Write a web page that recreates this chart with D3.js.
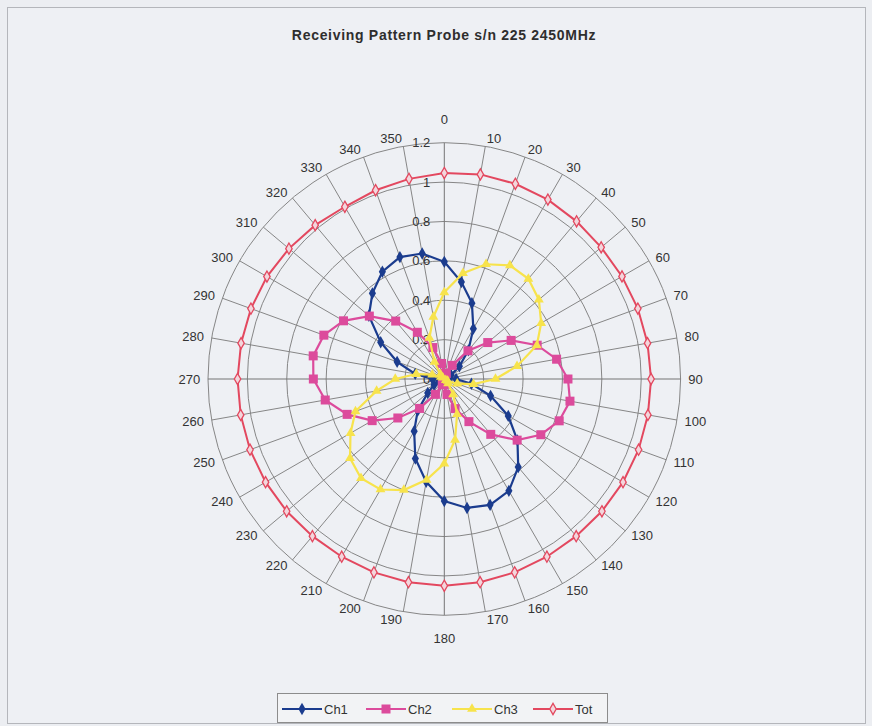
<!DOCTYPE html>
<html><head><meta charset="utf-8">
<script src="https://cdn.jsdelivr.net/npm/d3@7"></script>
<style>body{margin:0;background:#eceef2;}svg{display:block;font-family:"Liberation Sans",Arial,sans-serif;}</style>
</head><body><svg id="chart" width="872" height="726"></svg>
<script>
const angles = d3.range(0, 360, 10);
const angleLabels = angles.map(String);
const radialTicks = [0, 0.2, 0.4, 0.6, 0.8, 1, 1.2];
const radialTickLabels = ["0", "0.2", "0.4", "0.6", "0.8", "1", "1.2"];
const seriesNames = ["Ch1", "Ch2", "Ch3", "Tot"];
const ch1 = [0.595,0.50,0.41,0.295,0.19,0.10,0.04,0.01,0.02,0.06,0.14,0.25,0.375,0.485,0.584,0.656,0.68,0.665,
             0.62,0.53,0.43,0.306,0.21,0.11,0.06,0.03,0.02,0.06,0.15,0.255,0.373,0.50,0.568,0.629,0.659,0.647];
const ch2 = [0.03,0.02,0.03,0.08,0.187,0.288,0.392,0.502,0.579,0.628,0.648,0.621,0.566,0.483,0.367,0.25,0.16,0.08,
             0.03,0.02,0.03,0.09,0.195,0.308,0.423,0.525,0.614,0.665,0.676,0.651,0.591,0.497,0.384,0.274,0.17,0.08];
const ch3 = [0.44,0.546,0.62,0.666,0.664,0.627,0.568,0.50,0.375,0.26,0.15,0.07,0.02,0.01,0.03,0.09,0.19,0.314,
             0.43,0.52,0.60,0.648,0.658,0.625,0.55,0.48,0.349,0.249,0.145,0.065,0.02,0.01,0.03,0.10,0.222,0.32];
const tot = [1.046,1.055,1.055,1.052,1.045,1.04,1.042,1.046,1.048,1.05,1.05,1.05,1.048,1.045,1.042,1.042,1.045,1.048,
             1.05,1.048,1.045,1.042,1.042,1.045,1.048,1.05,1.05,1.05,1.048,1.045,1.04,1.03,1.02,1.01,1.02,1.032];
const seriesData = [ch1, ch2, ch3, tot];
const colors = ["#1b3c8e", "#dc4b9c", "#f7e34c", "#e3485f"];

const svg = d3.select("#chart");
const cx = 444.3, cy = 379, R = 236.3;
const r = d3.scaleLinear().domain([0, 1.2]).range([0, R]);
const a = d3.scaleLinear().domain([0, 360]).range([0, 2 * Math.PI]);

svg.append("rect").attr("x", 0).attr("y", 0).attr("width", 872).attr("height", 726).attr("fill", "#eceef2");
svg.append("rect").attr("x", 7.5).attr("y", 7.5).attr("width", 858).attr("height", 716)
  .attr("fill", "#eef0f4").attr("stroke", "#b4b6bb").attr("stroke-width", 1);

svg.append("text").attr("x", 444).attr("y", 40).attr("text-anchor", "middle")
  .attr("font-size", 14).attr("font-weight", "bold").attr("letter-spacing", 0.7).attr("fill", "#2e2e2e")
  .text("Receiving Pattern Probe s/n 225 2450MHz");

const g = svg.append("g").attr("transform", `translate(${cx},${cy})`);

// rings
g.selectAll("circle.ring").data(radialTicks.slice(1)).enter().append("circle")
  .attr("r", d => r(d)).attr("fill", "none").attr("stroke", "#868686").attr("stroke-width", 1);
// spokes
g.selectAll("line.spoke").data(angles).enter().append("line")
  .attr("x1", 0).attr("y1", 0)
  .attr("x2", d => R * Math.sin(a(d))).attr("y2", d => -R * Math.cos(a(d)))
  .attr("stroke", d => d % 90 === 0 ? "#757575" : "#868686").attr("stroke-width", 1);

// radial tick labels
g.selectAll("text.rt").data(radialTicks).enter().append("text")
  .attr("x", -14).attr("y", d => -r(d)).attr("dy", "0.35em").attr("text-anchor", "end")
  .attr("font-size", 13).attr("fill", "#333")
  .text((d, i) => radialTickLabels[i]);

// angle labels
const r0 = 244;
g.selectAll("text.al").data(angles).enter().append("text")
  .each(function(d, i) {
    const s = Math.sin(a(d)), c = Math.cos(a(d));
    let x = r0 * s, y = -r0 * c, anchor = "start";
    const t = d3.select(this);
    if (d === 0) { anchor = "middle"; y = -r(1.2) - 23; }
    else if (d === 180) { anchor = "middle"; y = r(1.2) + 23; }
    else if (d > 180) anchor = "end";
    t.attr("x", x).attr("y", y).attr("dy", "0.35em").attr("text-anchor", anchor)
      .attr("font-size", 13).attr("fill", "#333").text(angleLabels[i]);
  });

const line = d3.lineRadial().angle((d, i) => a(angles[i])).radius(d => r(d)).curve(d3.curveLinearClosed);

function marker(sel, k, color) {
  if (k === 0) sel.append("path").attr("d", d3.symbol(d3.symbolDiamond, 44)()).attr("fill", color);
  else if (k === 1) sel.append("rect").attr("x", -4.5).attr("y", -4.5).attr("width", 9).attr("height", 9).attr("fill", color);
  else if (k === 2) sel.append("path").attr("d", d3.symbol(d3.symbolTriangle, 42)()).attr("fill", color);
  else sel.append("path").attr("d", d3.symbol(d3.symbolDiamond, 36)()).attr("fill", "#f3d6dc").attr("stroke", color).attr("stroke-width", 1.3);
}

seriesData.forEach((vals, k) => {
  const sg = g.append("g");
  sg.append("path").attr("d", line(vals)).attr("fill", "none")
    .attr("stroke", colors[k]).attr("stroke-width", k === 3 ? 2 : 2.2);
  vals.forEach((v, i) => {
    const ang = a(angles[i]);
    const m = sg.append("g").attr("transform", `translate(${r(v) * Math.sin(ang)},${-r(v) * Math.cos(ang)})`);
    marker(m, k, colors[k]);
  });
});

// legend
const lg = svg.append("g");
lg.append("rect").attr("x", 277.5).attr("y", 693.5).attr("width", 330).attr("height", 29)
  .attr("fill", "#f2f3f5").attr("stroke", "#8c8c8c");
const lx = [282, 366, 452, 533];
seriesNames.forEach((name, k) => {
  const x0 = lx[k], y0 = 709;
  lg.append("line").attr("x1", x0).attr("x2", x0 + 40).attr("y1", y0).attr("y2", y0)
    .attr("stroke", colors[k]).attr("stroke-width", 2);
  const m = lg.append("g").attr("transform", `translate(${x0 + 20},${y0})`);
  marker(m, k, colors[k]);
  lg.append("text").attr("x", x0 + 42).attr("y", y0).attr("dy", "0.35em")
    .attr("font-size", 13).attr("fill", "#333").text(name);
});
</script></body></html>
